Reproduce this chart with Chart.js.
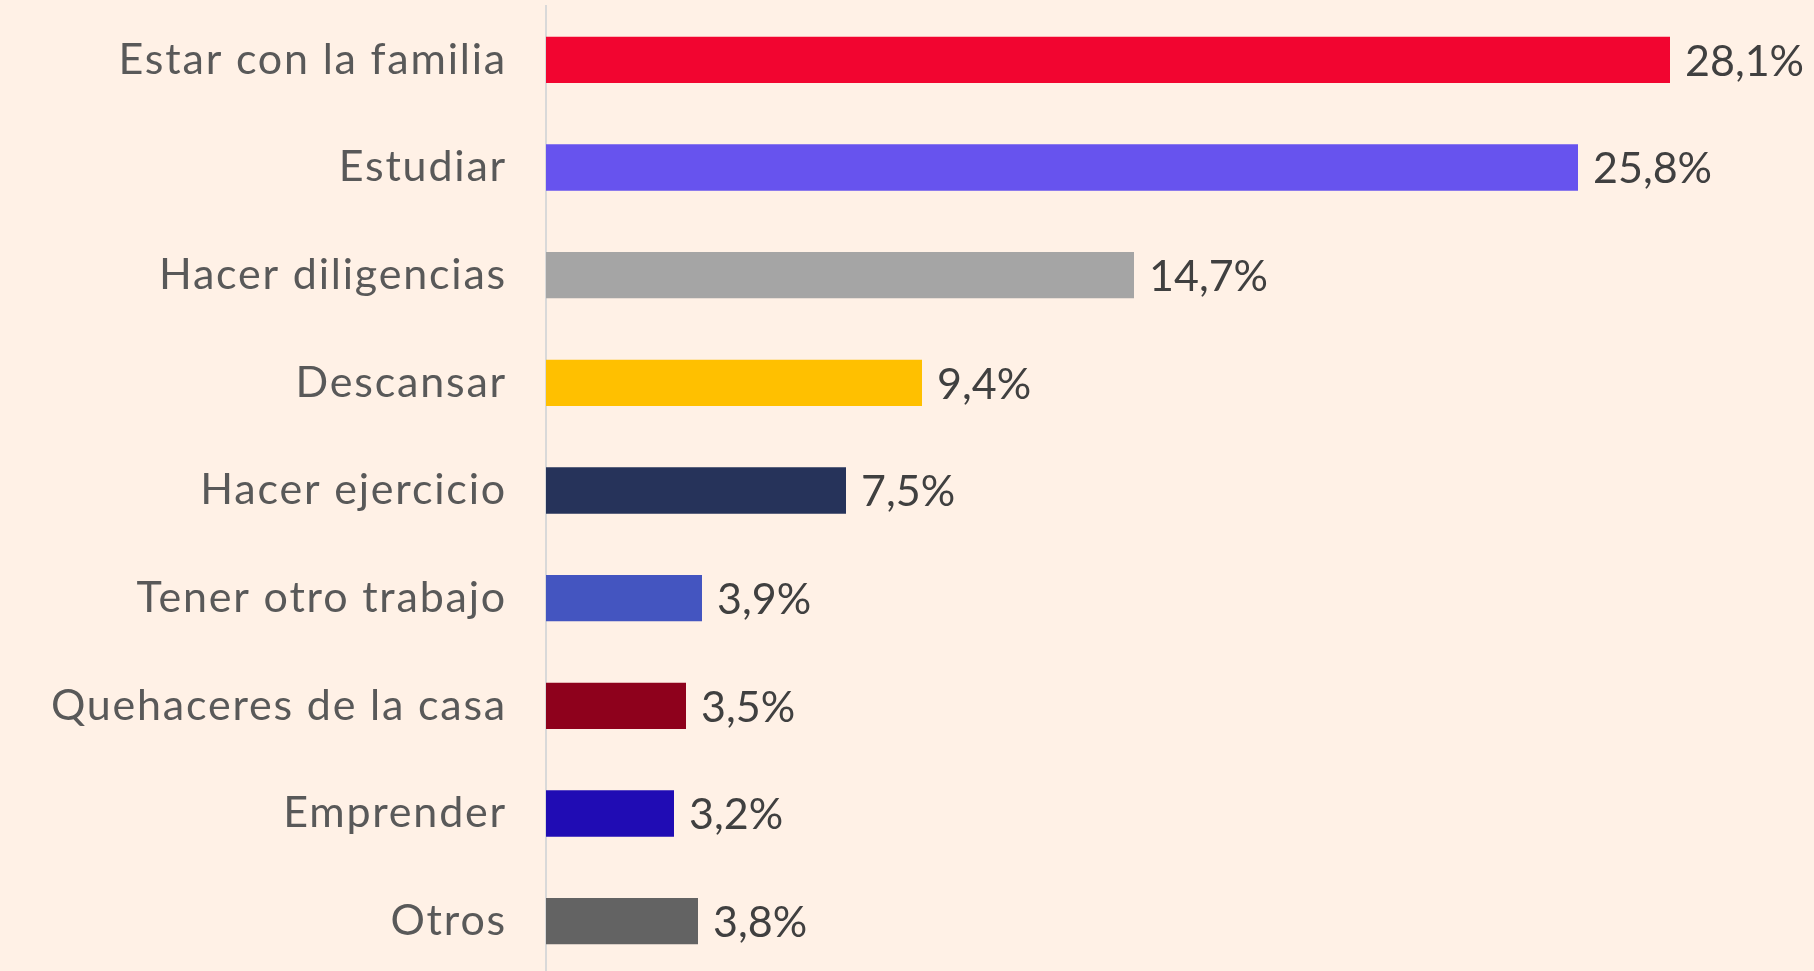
<!DOCTYPE html>
<html lang="es">
<head>
  <meta charset="utf-8" />
  <title>Actividades</title>
  <script src="https://cdn.jsdelivr.net/npm/chart.js@4.4.4/dist/chart.umd.min.js"></script>
  <style>
    html, body { margin: 0; padding: 0; background: #FFF1E6; overflow: hidden; }
    #stage { display: block; }
  </style>
</head>
<body>
  <canvas id="stage" width="1814" height="975"></canvas>

  <script>
    const categories = [
      'Estar con la familia',
      'Estudiar',
      'Hacer diligencias',
      'Descansar',
      'Hacer ejercicio',
      'Tener otro trabajo',
      'Quehaceres de la casa',
      'Emprender',
      'Otros'
    ];
    const values = [28.1, 25.8, 14.7, 9.4, 7.5, 3.9, 3.5, 3.2, 3.8];
    const barColors = [
      '#F20530', '#6753EE', '#A5A5A5', '#FFC000', '#26335A',
      '#4455C0', '#8E011C', '#200CB4', '#636363'
    ];

    const fontFamily = "'Century Gothic', 'Lato', sans-serif";

    // letra algo mas ancha, parecida a Century Gothic
    const wideText = {
      id: 'wideText',
      beforeUpdate(chart) {
        chart.ctx.letterSpacing = '1.8px';
      },
      beforeDraw(chart) {
        chart.ctx.letterSpacing = '1.8px';
      }
    };

    // etiquetas de valor al final de cada barra
    const valueLabels = {
      id: 'valueLabels',
      afterDatasetsDraw(chart) {
        const ctx = chart.ctx;
        const meta = chart.getDatasetMeta(0);
        ctx.save();
        ctx.letterSpacing = '0px';
        ctx.font = '43px ' + fontFamily;
        ctx.fillStyle = '#404040';
        ctx.textAlign = 'left';
        ctx.textBaseline = 'middle';
        meta.data.forEach((bar, i) => {
          const txt = values[i].toFixed(1).replace('.', ',') + '%';
          ctx.fillText(txt, bar.x + 15, bar.y + 2);
        });
        ctx.restore();
      }
    };

    new Chart(document.getElementById('stage'), {
      type: 'bar',
      data: {
        labels: categories,
        datasets: [{
          data: values,
          backgroundColor: barColors,
          borderWidth: 0,
          categoryPercentage: 1,
          barPercentage: 0.43
        }]
      },
      options: {
        indexAxis: 'y',
        responsive: false,
        devicePixelRatio: 1,
        animation: false,
        layout: {
          padding: { top: 6, right: 68, bottom: 0, left: 0 }
        },
        plugins: {
          legend: { display: false },
          tooltip: { enabled: false }
        },
        scales: {
          x: {
            display: false,
            min: 0,
            max: 30
          },
          y: {
            afterFit(scale) {
              scale.width = 546;
              scale.paddingTop = 0;
              scale.paddingBottom = 0;
            },
            grid: { display: false, drawTicks: false },
            border: { display: true, color: '#D9D9D9', width: 2 },
            ticks: {
              padding: 39,
              color: '#595959',
              font: { family: fontFamily, size: 43 }
            }
          }
        }
      },
      plugins: [wideText, valueLabels]
    });
  </script>
</body>
</html>
